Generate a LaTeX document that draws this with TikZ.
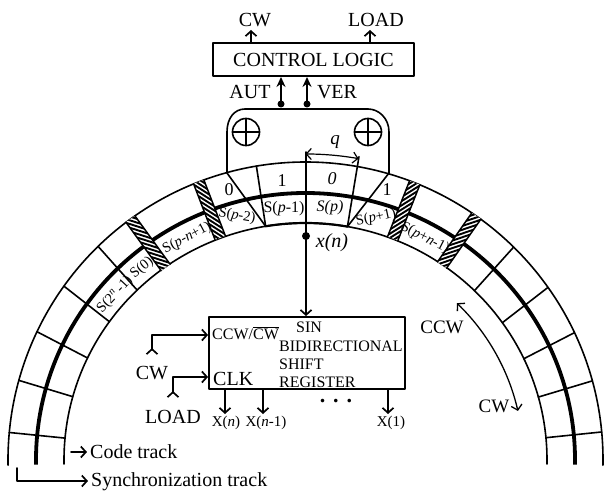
\documentclass[tikz,border=0pt]{standalone}
\usepackage{fontspec}
\setmainfont{Liberation Serif}
\usetikzlibrary{arrows.meta}

\newcommand{\hatchcell}[2]{%
	\begin{scope}[rotate=#1]
		\fill [white] (238,-5.5) rectangle (298,5.5);
		\begin{scope}
			\clip (238,-5.5) rectangle (298,5.5);
			\foreach \r in {222,228,...,300}
				\draw [line width=1.9pt] (\r,#2*5.5) -- (\r+15,-#2*5.5);
		\end{scope}
		\draw [line width=1.5pt] (238,-5.5) -- (298,-5.5);
		\draw [line width=1.5pt] (238,5.5) -- (298,5.5);
	\end{scope}
}

\tikzset{
	wire/.style={line width=1.7pt,>={Straight Barb[length=5pt,width=11pt]}},
	bus/.style={line width=1.8pt,-{Stealth[length=10pt,width=9pt]}},
	track/.style={line width=1.6pt},
	box/.style={draw,line width=1.9pt,inner sep=0pt,font=\fontsize{20}{22}\selectfont},
	lab/.style={inner sep=0pt,font=\fontsize{20}{22}\selectfont},
	reglab/.style={inner sep=0pt,font=\fontsize{16}{18}\selectfont},
	outlab/.style={inner sep=0pt,font=\fontsize{15}{17}\selectfont},
	bitlab/.style={inner sep=0pt,font=\fontsize{18}{20}\selectfont},
	slab/.style={inner sep=0pt,font=\fontsize{14.5}{16}\selectfont},
}

\begin{document}
\begin{tikzpicture}[line cap=round,line join=round,x=1pt,y=1pt]
	\useasboundingbox (-305.5,-30) rectangle (298.5,460);

	% Tracks
	\draw [track] (-1:297.5 and 298) arc[start angle=-1,end angle=181,x radius=297.5,y radius=298];
	\draw [track] (-1:241.5 and 237) arc[start angle=-1,end angle=181,x radius=241.5,y radius=237];
	\draw [line width=3.8pt,line cap=butt] (-1:269.5 and 267) arc[start angle=-1,end angle=181,x radius=269.5,y radius=267];
	\foreach \a in {5.4,15.4,25.3,35.4,45.6,134.2,144.3,154.5,164.5,174.7}
		\draw [track] (\a:241.5 and 237) -- (\a:297.5 and 298);
	\hatchcell{55}{1}
	\hatchcell{68.5}{1}
	\hatchcell{111}{-1}
	\hatchcell{126}{-1}

	% Head
	\coordinate (headleft) at (-78.5,287);
	\coordinate (headright) at (83.5,287);
	\draw [track] (headleft) -- (-78.5,328) .. controls (-78.5,342) and (-71,351) .. (-60.5,351) -- (62.5,351) .. controls (73,351) and (83.5,342) .. (83.5,328) -- (headright);
	\draw [track] (headleft) -- (99.5:241.5 and 237);
	\draw [track] (headright) -- (80:241.5 and 237);
	\draw [track] (99.5:241.5 and 237) -- (99.5:297.5 and 298);
	\draw [line width=2.2pt] (99.5:241.5 and 237) arc[start angle=99.5,end angle=80,x radius=241.5,y radius=237];
	\foreach \sx in {-59.5,62.5} {
		\draw [track] (\sx,328) circle (13.5);
		\draw [track] (\sx-13.5,328) -- (\sx+13.5,328);
		\draw [track] (\sx,314.5) -- (\sx,341.5);
	}

	% q
	\coordinate (dothead) at (0.5,224);
	\draw [track] (80:308) -- (80:241.5 and 237);
	\draw [track] (0.5,308) -- (dothead);
	\draw [wire,<->,line width=1.2pt] (90:306) arc[start angle=90,end angle=80,radius=306];
	\node [bitlab,font=\fontsize{19}{20}\selectfont\itshape] (qlab) at (29.5,318) {q};
	\fill (dothead) circle (4);
	\node [inner sep=0pt,font=\fontsize{20}{22}\selectfont\itshape] (xlab) at (26.5,217) {x(n)};

	% Bits
	\node [bitlab] (bita) at (-76.5,270) {0};
	\node [bitlab] (bitb) at (-23.5,279) {1};
	\node [bitlab] (bitc) at (26.5,281) {\textit{0}};
	\node [bitlab] (bitd) at (81.5,270) {1};
	\node [slab,rotate=-10] (spa) at (-68.5,244) {S(\textit{p}-2)};
	\node [reglab] (spb) at (-21.5,251) {S(\textit{p}-1)};
	\node [reglab] (spc) at (24.5,252) {\textit{S(p)}};
	\node [slab,rotate=12] (spd) at (70.5,242) {S(\textit{p}+1)};
	\node [slab,rotate=-27] (spe) at (119.5,222) {S(\textit{p}+\textit{n}-1)};
	\node [slab,rotate=28] (spf) at (-118.5,222) {S(\textit{p}-\textit{n}+1)};
	\node [slab,rotate=40] (spg) at (-163.5,192) {S(0)};
	\node [slab,rotate=47] (sph) at (-190.5,165) {S(2\textsuperscript{\textit{n}}\,-1)};

	% Control logic
	\node [box,minimum width=201pt,minimum height=33pt] (logic) at (8,400.5) {CONTROL LOGIC};
	\node [lab] (cwout) at (-50.5,440) {CW};
	\node [lab] (loadout) at (70.5,440) {LOAD};
	\coordinate (cwtip) at (-54.5,430);
	\coordinate (loadtip) at (64.5,430);
	\draw [wire,->] (logic.north -| cwtip) -- (cwtip);
	\draw [wire,->] (logic.north -| loadtip) -- (loadtip);
	\coordinate (autdot) at (-24.5,356);
	\coordinate (verdot) at (1.5,356);
	\draw [bus] (autdot) -- (logic.south -| autdot);
	\draw [bus] (verdot) -- (logic.south -| verdot);
	\fill (autdot) circle (3.5);
	\fill (verdot) circle (3.5);
	\node [lab] (autlab) at (-55.5,368) {AUT};
	\node [lab] (verlab) at (31.5,368) {VER};

	% Shift register
	\node [box,minimum width=196pt,minimum height=72pt] (shiftreg) at (1.5,107) {};
	\draw [wire,->] (dothead) -- (shiftreg.north -| dothead);
	\node [reglab] (sinlab) at (3.5,133) {SIN};
	\node [reglab,anchor=west] (bilab) at (-26.5,114) {BIDIRECTIONAL};
	\node [reglab,anchor=west] (shlab) at (-26.5,96) {SHIFT};
	\node [reglab,anchor=west] (relab) at (-26.5,78) {REGISTER};
	\node [reglab,anchor=west] (ccwlab) at (-93.5,127) {CCW/$\overline{\mbox{CW}}$};
	\node [lab,anchor=west] (clklab) at (-92.5,81) {CLK};
	\node [lab] (cwin) at (-153.5,87) {CW};
	\node [lab] (loadin) at (-132.5,43) {LOAD};
	\coordinate (cwstart) at (-153.5,105);
	\coordinate (loadstart) at (-132.5,62);
	\coordinate (cwrow) at (0,125);
	\coordinate (clkrow) at (0,83);
	\draw [wire,>->] (cwstart) |- (shiftreg.west |- cwrow);
	\draw [wire,>->] (loadstart) |- (shiftreg.west |- clkrow);
	\foreach \nm/\px/\lx/\txt in {xa/-80.5/-79.5/X(\textit{n}),xb/-42.5/-39.5/X(\textit{n}-1),xc/82.5/85.5/X(1)} {
		\node [outlab] (\nm) at (\lx,37) {\txt};
		\coordinate (\nm top) at (\px,46);
		\draw [wire,->] (shiftreg.south -| \nm top) -- (\nm top);
	}
	\node [lab,anchor=base,font=\fontsize{22}{24}\selectfont\bfseries] (dots) at (30.5,58) {.\hspace{8pt}.\hspace{8pt}.};

	% Direction
	\draw [wire,<->,line width=1.3pt] (46:218) arc[start angle=46,end angle=13,radius=218];
	\node [lab,font=\fontsize{19}{21}\selectfont] (ccwdir) at (136.5,133) {CCW};
	\node [lab,font=\fontsize{19}{21}\selectfont] (cwdir) at (188.5,54) {CW};

	% Track names
	\node [lab,anchor=base west] (codelab) at (-215.5,2) {Code track};
	\node [lab,anchor=base west] (synclab) at (-214.5,-26.7) {Synchronization track};
	\coordinate (codestart) at (-234.5,8);
	\coordinate (syncstart) at (-288.5,-8);
	\coordinate (syncend) at (-217.5,-21);
	\coordinate (codeend) at (-218.5,8);
	\draw [wire,->] (codestart) -- (codeend);
	\draw [wire,->] (syncstart) |- (syncend);
\end{tikzpicture}
\end{document}
